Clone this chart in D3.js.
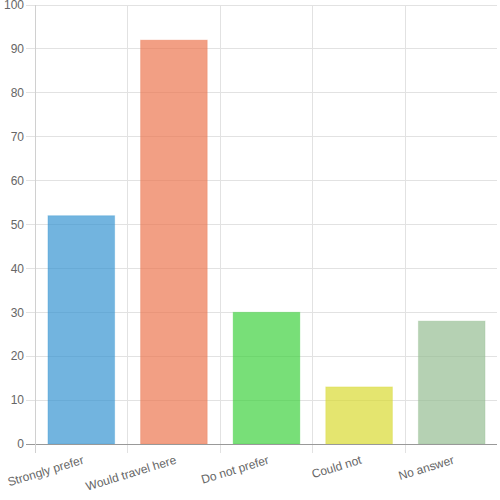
<!DOCTYPE html>
<html><head><meta charset="utf-8">
<script src="https://cdn.jsdelivr.net/npm/d3@7/dist/d3.min.js"></script>
<style>body{margin:0;background:#fff}svg{display:block}text{font-family:"Liberation Sans",Arial,sans-serif;fill:#666}</style>
</head><body><svg id="c" width="500" height="500"></svg>
<script>
const categories = ["Strongly prefer","Would travel here","Do not prefer","Could not","No answer"];
const values = [52, 92, 30, 13, 28];
const fills = ["rgba(54,148,209,0.7)","rgba(236,118,80,0.7)","rgba(62,210,62,0.7)","rgba(216,218,50,0.7)","rgba(150,190,147,0.7)"];
const strokes = ["rgba(54,148,209,0.3)","rgba(236,118,80,0.3)","rgba(62,210,62,0.3)","rgba(216,218,50,0.3)","rgba(150,190,147,0.3)"];
const yTicks = [0,10,20,30,40,50,60,70,80,90,100];

const svg = d3.select("#c");
const L = 35, R = 498, T = 5, B = 444;
const x = d3.scaleBand().domain(categories).range([L, R]).paddingInner(0).paddingOuter(0);
const y = d3.scaleLinear().domain([0, 100]).range([B, T]);

// horizontal gridlines
svg.append("g").selectAll("line").data(yTicks).join("line")
  .attr("x1", L - 9).attr("x2", R - 1).attr("y1", d => y(d)).attr("y2", d => y(d))
  .attr("stroke", d => d === 0 ? "none" : "#e2e2e2").attr("stroke-width", 1).attr("shape-rendering","crispEdges");
// vertical gridlines
const vx = categories.map(c => x(c));
svg.append("g").selectAll("line").data(vx).join("line")
  .attr("x1", d => d).attr("x2", d => d).attr("y1", T).attr("y2", B + 9)
  .attr("stroke", "#e2e2e2").attr("shape-rendering","crispEdges");

// y labels
svg.append("g").selectAll("text").data(yTicks).join("text")
  .attr("x", L - 11).attr("y", d => y(d)).attr("dy", "0.35em")
  .attr("text-anchor", "end").style("font-size", "12px").text(d => d);

// bars
const bw = x.bandwidth() * 0.72;
svg.append("g").selectAll("rect").data(values).join("rect")
  .attr("x", (d, i) => x(categories[i]) + (x.bandwidth() - bw) / 2)
  .attr("y", d => y(d)).attr("width", bw).attr("height", d => B - y(d))
  .attr("fill", (d, i) => fills[i]).attr("stroke", (d, i) => strokes[i]).attr("stroke-width", 1);

// axes lines
svg.append("line").attr("x1", L - 9).attr("x2", R - 1).attr("y1", B).attr("y2", B)
  .attr("stroke", "#999").attr("shape-rendering","crispEdges");
svg.append("line").attr("x1", L).attr("x2", L).attr("y1", T).attr("y2", B + 9)
  .attr("stroke", "#d0d0d0").attr("shape-rendering","crispEdges");

// x labels
svg.append("g").selectAll("text").data(categories).join("text")
  .attr("transform", d => `translate(${x(d) + x.bandwidth() / 2},${B + 9}) rotate(-17)`)
  .attr("text-anchor", "end").attr("dy", "0.9em").style("font-size", "12px").text(d => d);
</script></body></html>
